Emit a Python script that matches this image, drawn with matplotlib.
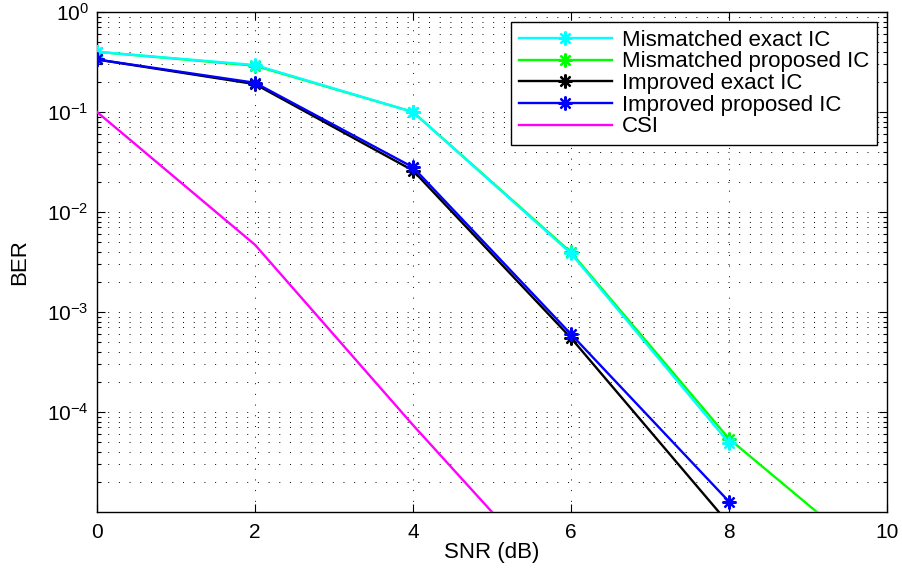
import matplotlib
matplotlib.use("Agg")
import matplotlib.pyplot as plt
import numpy as np

plt.rcParams['font.family'] = ['Liberation Sans', 'DejaVu Sans']
plt.rcParams['mathtext.fontset'] = 'custom'
plt.rcParams['mathtext.rm'] = 'Liberation Sans'
plt.rcParams['mathtext.it'] = 'Liberation Sans:italic'

# ---- data ----
snr = [0, 2, 4, 6, 8, 10]
mm_exact_x = [0, 2, 4, 6, 8]
mm_exact = [0.40, 0.295, 0.100, 3.85e-3, 4.9e-5]
mm_prop_x = [0, 2, 4, 6, 8, 10]
mm_prop = [0.40, 0.29, 0.100, 3.95e-3, 5.4e-5, 2.6e-6]
imp_exact_x = [0, 2, 4, 6, 8]
imp_exact = [0.335, 0.19, 0.026, 5.5e-4, 7.6e-6]
imp_prop_x = [0, 2, 4, 6, 8]
imp_prop = [0.335, 0.196, 0.028, 6.0e-4, 1.27e-5]
csi_x = [0, 2, 4, 6]
csi = [0.1, 4.7e-3, 7.4e-5, 1.35e-6]

labels = ["Mismatched exact IC", "Mismatched proposed IC",
          "Improved exact IC", "Improved proposed IC", "CSI"]
xticks = [0, 2, 4, 6, 8, 10]
yticks = [1e-4, 1e-3, 1e-2, 1e-1, 1e0]

fig = plt.figure(figsize=(9.03, 5.71), dpi=100)
ax = fig.add_axes([97/903, 1-512/571, (887-97)/903, (512-12)/571])

ast = (8, 2, 0)
lw = 1.7
ms = 10
mew = 1.6

h_green, = ax.plot(mm_prop_x, mm_prop, color=(0, 1, 0), lw=lw, marker=ast, ms=ms, mew=mew, zorder=3)
h_cyan, = ax.plot(mm_exact_x, mm_exact, color=(0, 1, 1), lw=lw, marker=ast, ms=ms, mew=mew, zorder=4)
h_black, = ax.plot(imp_exact_x, imp_exact, color='k', lw=lw, marker=ast, ms=ms, mew=mew, zorder=3)
h_blue, = ax.plot(imp_prop_x, imp_prop, color=(0, 0, 1), lw=lw, marker=ast, ms=ms, mew=mew, zorder=4)
h_mag, = ax.plot(csi_x, csi, color=(1, 0, 1), lw=lw, zorder=3)

ax.set_yscale('log')
ax.set_xlim(0, 10)
ax.set_ylim(1e-5, 1)
ax.set_xticks(xticks)
ax.set_yticks(yticks)
ax.yaxis.set_minor_locator(matplotlib.ticker.LogLocator(base=10, subs=np.arange(2, 10)))
ax.yaxis.set_minor_formatter(matplotlib.ticker.NullFormatter())

ax.tick_params(which='both', direction='in', top=True, right=True, labelsize=15, width=0.8)
ax.tick_params(which='major', length=6)
ax.tick_params(which='minor', length=3)
ax.tick_params(axis='x', pad=8)
ax.tick_params(axis='y', pad=6)

grid_style = dict(color='k', linewidth=0.7, linestyle=(0, (1, 10)))
ax.grid(True, which='major', axis='both', **grid_style)
ax.grid(True, which='minor', axis='y', **grid_style)
ax.set_axisbelow(True)

for s in ax.spines.values():
    s.set_linewidth(1.0)

ax.set_xlabel("SNR (dB)", fontsize=16, labelpad=0)
ax.set_ylabel("BER", fontsize=16, labelpad=12)

leg = ax.legend([h_cyan, h_green, h_black, h_blue, h_mag], labels,
                loc='upper right', fontsize=16, frameon=True, fancybox=False,
                edgecolor='k', framealpha=1, borderpad=0.35, labelspacing=0.03,
                handlelength=4.2, handletextpad=0.45, borderaxespad=0.45,
                markerscale=1.0)
leg.get_frame().set_linewidth(1.0)

fig.savefig("out.png", dpi=100)
